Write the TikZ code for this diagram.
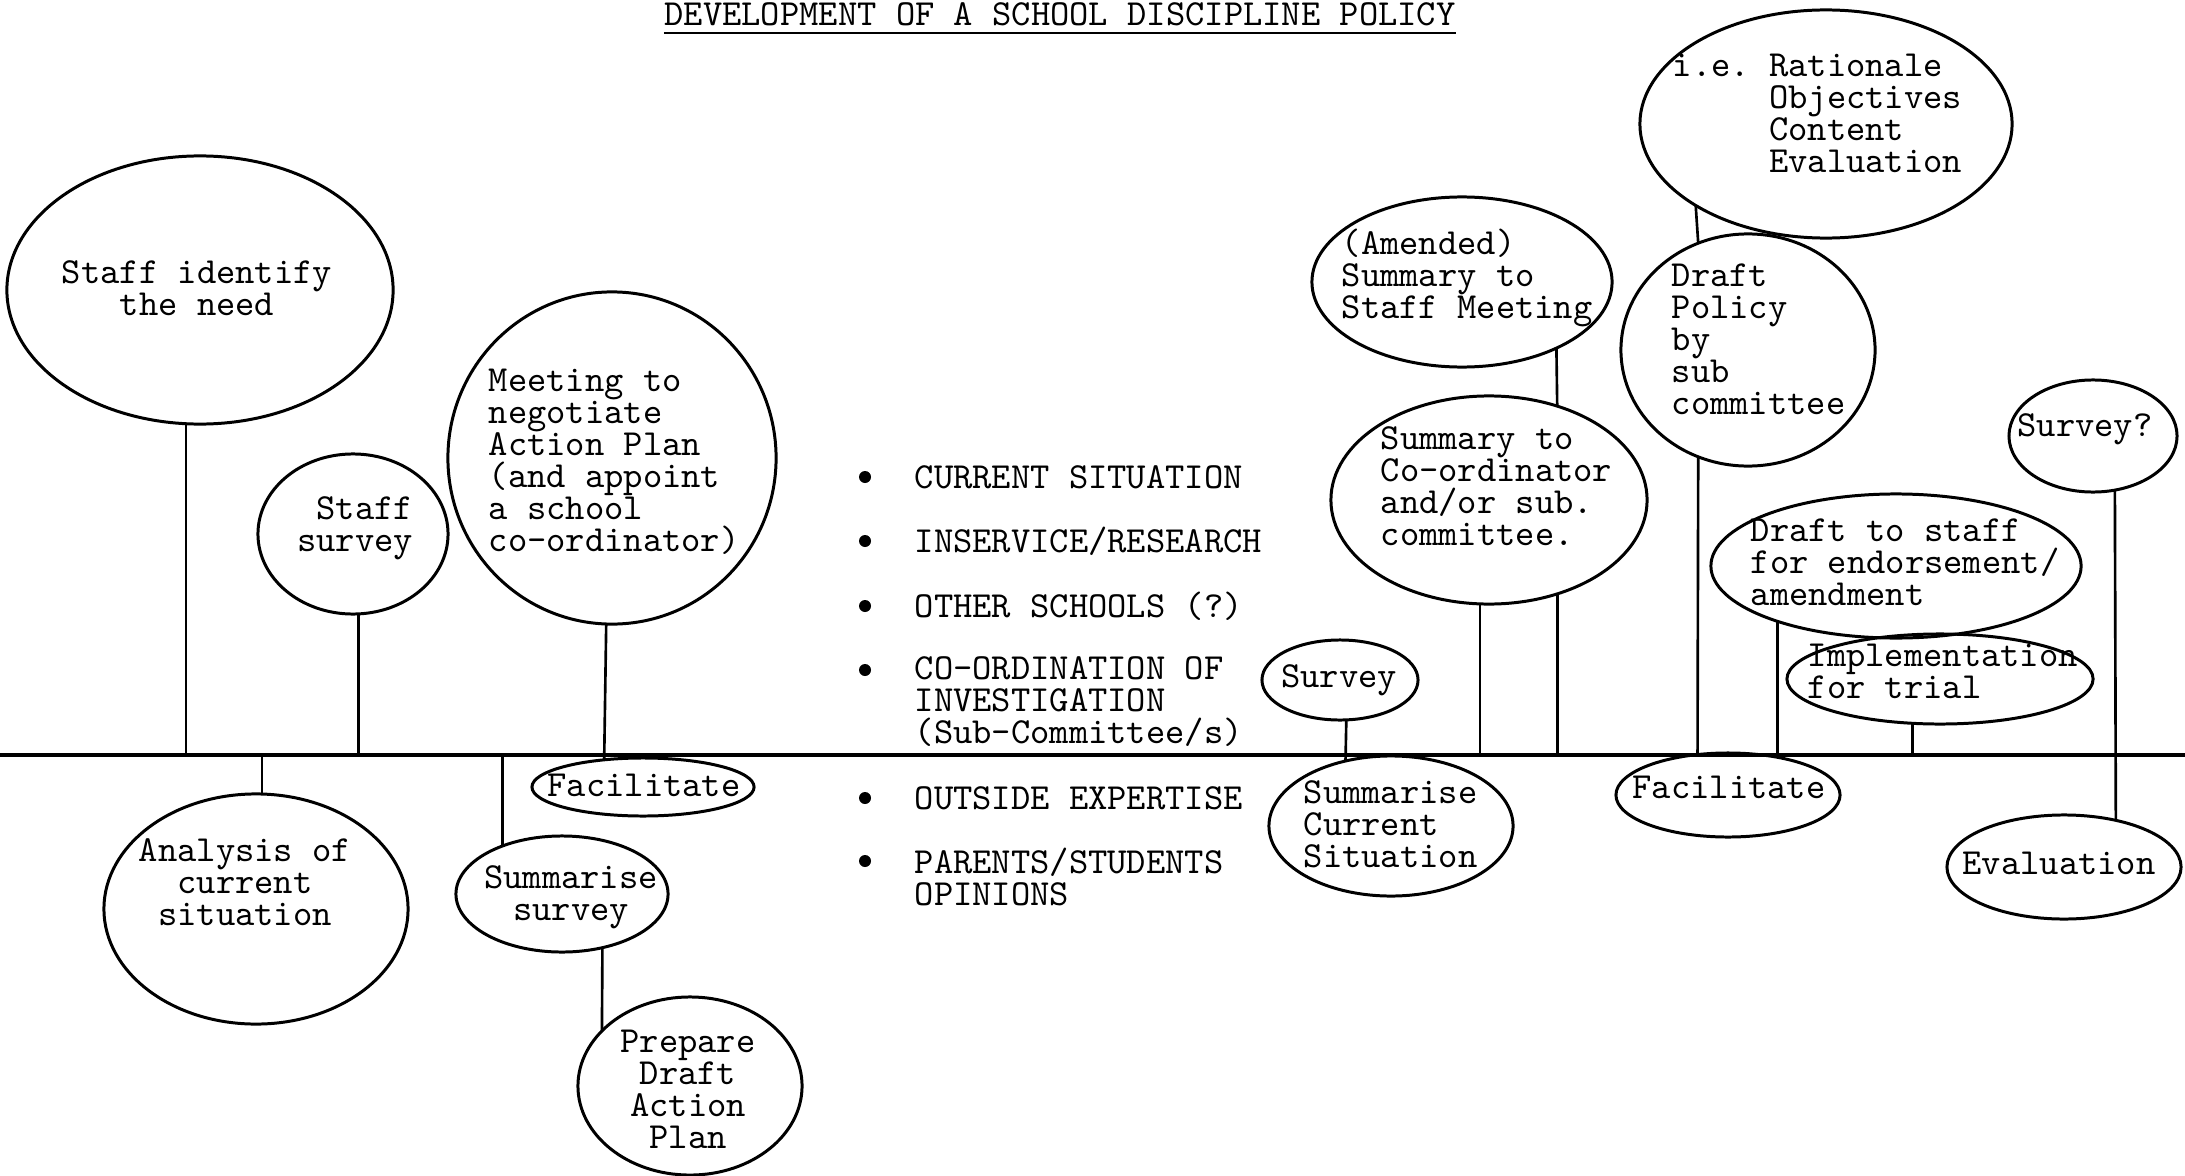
\documentclass[tikz,border=0pt]{standalone}
\usepackage{fontspec}
\usetikzlibrary{shapes.geometric}

\newcommand\typewriter{\ttfamily\fontsize{10.45pt}{9.1pt}\selectfont\frenchspacing\lineskiplimit=-\maxdimen}

\tikzset{
	blob/.style={draw, ellipse, line width=0.85pt, inner sep=0pt, outer sep=0pt},
	txt/.style={inner sep=0pt, font=\typewriter},
	stem/.style={line width=0.75pt},
	dot/.style={circle, fill, inner sep=0pt, minimum size=0.12cm},
}

\begin{document}
\begin{tikzpicture}[x=0.01cm, y=-0.01cm]
	\useasboundingbox (0,0) rectangle (2185,1176);
	
	% Title
	\node[txt, anchor=base] (title) at (1060,26) {DEVELOPMENT OF A SCHOOL DISCIPLINE POLICY};
	\draw[line width=0.8pt] ([yshift=-0.07cm]title.base west) -- ([yshift=-0.07cm]title.base east);
	
	% Time line
	\coordinate (tl-w) at (0,755);
	\coordinate (tl-e) at (2185,755);
	\draw[line width=0.9pt] (tl-w) -- (tl-e);
	
	% Blobs, left part
	\node[blob, minimum width=3.86cm, minimum height=2.68cm] (need) at (200,290) {};
	\node[txt, align=center] (need-t) at (197,288) {Staff identify\\the need};
	\node[blob, minimum width=1.90cm, minimum height=1.60cm] (staffsurv) at (353,534) {};
	\node[txt, align=right] (staffsurv-t) at (355,528) {Staff\\survey};
	\node[blob, minimum width=3.28cm, minimum height=3.32cm] (meeting) at (612,458) {};
	\node[txt, align=left, anchor=west] (meeting-t) at (488,462) {Meeting to\\negotiate\\Action Plan\\(and appoint\\a school\\co-ordinator)};
	\node[blob, minimum width=2.22cm, minimum height=0.58cm] (facL) at (643,787) {};
	\node[txt] (facL-t) at (644,785) {Facilitate};
	\node[blob, minimum width=3.04cm, minimum height=2.30cm] (analysis) at (256,909) {};
	\node[txt, align=center] (analysis-t) at (245,882) {Analysis of\\current\\situation};
	\node[blob, minimum width=2.12cm, minimum height=1.16cm] (sumsurv) at (562,894) {};
	\node[txt, align=center] (sumsurv-t) at (571,897) {Summarise\\survey};
	\node[blob, minimum width=2.24cm, minimum height=1.78cm] (prepare) at (690,1086) {};
	\node[txt, align=center] (prepare-t) at (688,1089) {Prepare\\Draft\\Action\\Plan};
	
	% Bullet list
	\node[dot] (b1) at (865,477) {};
	\node[txt, anchor=west] (b1-t) at (914,477) {CURRENT SITUATION};
	\node[dot] (b2) at (865,541) {};
	\node[txt, anchor=west] (b2-t) at (914,541) {INSERVICE/RESEARCH};
	\node[dot] (b3) at (865,606) {};
	\node[txt, anchor=west] (b3-t) at (914,606) {OTHER SCHOOLS (?)};
	\node[dot] (b4) at (865,670) {};
	\node[txt, align=left, anchor=west] (b4-t) at (914,702) {CO-ORDINATION OF\\INVESTIGATION\\(Sub-Committee/s)};
	\node[dot] (b5) at (865,798) {};
	\node[txt, anchor=west] (b5-t) at (914,798) {OUTSIDE EXPERTISE};
	\node[dot] (b6) at (865,861) {};
	\node[txt, align=left, anchor=west] (b6-t) at (914,877) {PARENTS/STUDENTS\\OPINIONS};
	
	% Blobs, right part
	\node[blob, minimum width=1.56cm, minimum height=0.80cm] (survS) at (1340,680) {};
	\node[txt] (survS-t) at (1339,680) {Survey};
	\node[blob, minimum width=2.44cm, minimum height=1.40cm] (sumcur) at (1391,826) {};
	\node[txt, align=left, anchor=west] (sumcur-t) at (1303,824) {Summarise\\Current\\Situation};
	\node[blob, minimum width=3.16cm, minimum height=2.08cm] (sumco) at (1489,500) {};
	\node[txt, align=left, anchor=west] (sumco-t) at (1380,486) {Summary to\\Co-ordinator\\and/or sub.\\committee.};
	\node[blob, minimum width=3.00cm, minimum height=1.70cm] (amended) at (1462,282) {};
	\node[txt, align=left, anchor=west] (amended-t) at (1341,278) {(Amended)\\Summary to\\Staff Meeting};
	\node[blob, minimum width=3.72cm, minimum height=2.28cm] (ie) at (1826,124) {};
	\node[txt, align=left, anchor=west] (ie-t) at (1672,113) {i.e. Rationale\\\phantom{i.e. }Objectives\\\phantom{i.e. }Content\\\phantom{i.e. }Evaluation};
	\node[blob, minimum width=2.54cm, minimum height=2.32cm] (policy) at (1748,350) {};
	\node[txt, align=left, anchor=west] (policy-t) at (1671,339) {Draft\\Policy\\by\\sub\\committee};
	\node[blob, minimum width=2.24cm, minimum height=0.84cm] (facR) at (1728,795) {};
	\node[txt] (facR-t) at (1729,787) {Facilitate};
	\node[blob, minimum width=3.70cm, minimum height=1.44cm] (dstaff) at (1896,566) {};
	\node[txt, align=left, anchor=west] (dstaff-t) at (1750,562) {Draft to staff\\for endorsement/\\amendment};
	\node[blob, minimum width=3.06cm, minimum height=0.90cm] (impl) at (1940,679) {};
	\node[txt, align=left, anchor=west] (impl-t) at (1807,671) {Implementation\\for trial};
	\node[blob, minimum width=1.68cm, minimum height=1.12cm] (surveyQ) at (2093,436) {};
	\node[txt] (surveyQ-t) at (2085,429) {Survey?};
	\node[blob, minimum width=2.34cm, minimum height=1.04cm] (eval) at (2064,867) {};
	\node[txt] (eval-t) at (2059,863) {Evaluation};
	
	% Stems
	\draw[stem] (need.264) -- (need.264 |- tl-w);
	\draw[stem] (staffsurv.274) -- (staffsurv.274 |- tl-w);
	\draw[stem] (meeting.268) -- (facL.145);
	\draw[stem] (analysis.87) -- (analysis.87 |- tl-w);
	\draw[stem] (sumsurv.141) -- (sumsurv.141 |- tl-w);
	\draw[stem] (sumsurv.307) -- (prepare.148);
	\draw[stem] (survS.279) -- (sumcur.125);
	\draw[stem] (sumco.265) -- (sumco.265 |- tl-w);
	\draw[stem] (amended.325) -- (sumco.54);
	\draw[stem] (sumco.306) -- (sumco.306 |- tl-w);
	\draw[stem] (ie.212) -- (policy.115);
	\draw[stem] (policy.245) -- (facR.127);
	\draw[stem] (dstaff.205) -- (dstaff.205 |- tl-w);
	\draw[stem] (impl.238) -- (impl.238 |- tl-w);
	\draw[stem] (surveyQ.292) -- (eval.42);
\end{tikzpicture}
\end{document}
